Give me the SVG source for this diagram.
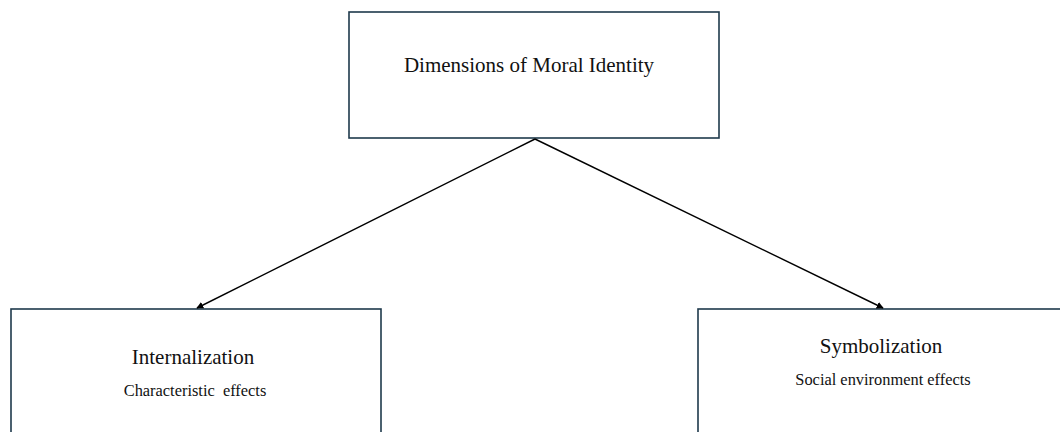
<svg xmlns="http://www.w3.org/2000/svg" width="1060" height="432" viewBox="0 0 1060 432">
  <style>
    .box { fill: #ffffff; stroke: #1f3a4c; stroke-width: 1.6; }
    .title { font-family: "Liberation Serif", "Times New Roman", serif; font-size: 21px; fill: #111111; text-anchor: middle; }
    .sub { font-family: "Liberation Serif", "Times New Roman", serif; font-size: 16.4px; fill: #111111; text-anchor: middle; }
    .conn { stroke: #000000; stroke-width: 1.4; fill: none; marker-end: url(#arrow); }
  </style>
  <defs>
    <marker id="arrow" viewBox="0 0 10 10" refX="9" refY="5" markerWidth="7" markerHeight="7" markerUnits="userSpaceOnUse" orient="auto">
      <path d="M0,0 L10,5 L0,10 z" fill="#000000"/>
    </marker>
  </defs>
  <rect width="1060" height="432" fill="#ffffff"/>
  <g id="node-top">
    <rect class="box" x="349" y="12" width="370" height="126"/>
    <text class="title" x="529" y="72">Dimensions of Moral Identity</text>
  </g>
  <g id="node-internalization">
    <rect class="box" x="11" y="309" width="370" height="150"/>
    <text class="title" x="193" y="364">Internalization</text>
    <text class="sub" x="195" y="396" xml:space="preserve">Characteristic  effects</text>
  </g>
  <g id="node-symbolization">
    <rect class="box" x="698" y="309" width="380" height="150"/>
    <text class="title" x="881" y="353">Symbolization</text>
    <text class="sub" x="883" y="385">Social environment effects</text>
  </g>
  <g id="connectors">
    <line class="conn" x1="535" y1="139" x2="197" y2="308"/>
    <line class="conn" x1="535" y1="139" x2="883" y2="308"/>
  </g>
</svg>
